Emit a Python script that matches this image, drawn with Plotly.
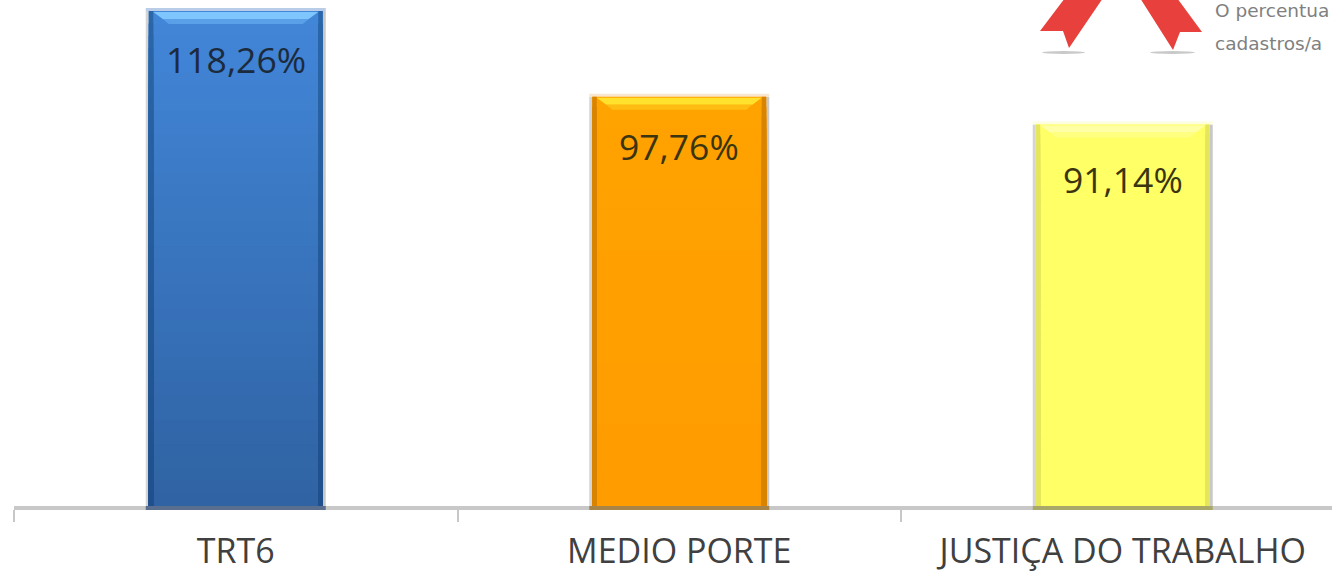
import plotly.graph_objects as go

categories = ["TRT6", "MEDIO PORTE", "JUSTIÇA DO TRABALHO"]
values = [118.26, 97.76, 91.14]
labels = ["118,26%", "97,76%", "91,14%"]
label_shift = [-48, -49, -54.5]
bar_top = ["#4286d8", "#ffa300", "#ffff66"]
bar_bottom = ["#2f62a2", "#ff9c00", "#ffff66"]
side_color = ["#2a66a8", "#d98400", "#e6e65c"]
side_bottom = ["#1f4f8c", "#d98400", "#e6e65c"]
shine_color = ["#7fc6ff", "#ffe12e", "#ffffa6"]
edge_color = ["#b9cde8", "#f8e6cf", "#fdfde0"]
foot_color = ["#5a6f8f", "#a88446", "#a8a868"]
note_lines = ["O percentua", "cadastros/a"]

W, H = 1332, 573
L, B = 14, 67
PLOT_H = 506
UNIT_PX = 495 / 118.26
CAT_PX = 443.5
BAR_W = 174 / CAT_PX
XR = (-0.5, -0.5 + (W - L) / CAT_PX)
YR = (0, PLOT_H / UNIT_PX)


def mix(a, b, t):
    ca = [int(a[i:i + 2], 16) for i in (1, 3, 5)]
    cb = [int(b[i:i + 2], 16) for i in (1, 3, 5)]
    return "#%02x%02x%02x" % tuple(round(p + (q - p) * t) for p, q in zip(ca, cb))


def px(x):
    return (x - L) / (W - L)


def py(y):
    return 1 - y / PLOT_H


fig = go.Figure(go.Bar(
    x=categories, y=values, width=BAR_W,
    marker=dict(color=bar_top, line=dict(width=0)),
    hoverinfo="skip", showlegend=False,
))

shapes = []
dx = 1 / CAT_PX
dy = 1 / UNIT_PX
BANDS = 40
for i, v in enumerate(values):
    x0, x1 = i - BAR_W / 2, i + BAR_W / 2
    shapes.append(dict(type="rect", xref="x", yref="y", x0=x1, x1=x1 + 3 * dx, y0=0, y1=v,
                       fillcolor="#c8c8c8", line_width=0, layer="above"))
    shapes.append(dict(type="rect", xref="x", yref="y", x0=x0 - 3 * dx, x1=x0, y0=0, y1=v,
                       fillcolor="#d4d4d4", line_width=0, layer="above"))
    shapes.append(dict(type="rect", xref="x", yref="y", x0=x0 - 3 * dx, x1=x1 + 3 * dx,
                       y0=v, y1=v + 3 * dy, fillcolor=edge_color[i], line_width=0, layer="above"))
    # vertical gradient: each band runs to the baseline, so no seams show
    for k in range(BANDS):
        t0 = k / BANDS
        yb = v * (1 - t0)
        shapes.append(dict(type="rect", xref="x", yref="y", x0=x0, x1=x1, y0=0, y1=yb,
                           fillcolor=mix(bar_top[i], bar_bottom[i], t0), line_width=0, layer="above"))
    for k in range(BANDS):
        t0 = k / BANDS
        yb = v * (1 - t0)
        for a, b in ((x0, x0 + 4.5 * dx), (x1 - 4.5 * dx, x1)):
            shapes.append(dict(type="rect", xref="x", yref="y", x0=a, x1=b, y0=0, y1=yb,
                               fillcolor=mix(side_color[i], side_bottom[i], t0), line_width=0, layer="above"))
    path = (f"M {x0 + 4.5 * dx} {v - 1 * dy} L {x1 - 4.5 * dx} {v - 1 * dy} "
            f"L {x1 - 14 * dx} {v - 8 * dy} L {x0 + 14 * dx} {v - 8 * dy} Z")
    shapes.append(dict(type="path", xref="x", yref="y", path=path,
                       fillcolor=shine_color[i], line_width=0, layer="above"))
    path = (f"M {x0 + 14 * dx} {v - 8 * dy} L {x1 - 14 * dx} {v - 8 * dy} "
            f"L {x1 - 20 * dx} {v - 13 * dy} L {x0 + 20 * dx} {v - 13 * dy} Z")
    shapes.append(dict(type="path", xref="x", yref="y", path=path,
                       fillcolor=mix(shine_color[i], bar_top[i], 0.6), line_width=0, layer="above"))
    # foot of the bar, over the axis line
    shapes.append(dict(type="rect", xref="x", yref="paper", x0=x0 - 3 * dx, x1=x1 + 3 * dx, y0=py(510), y1=py(506),
                       fillcolor=foot_color[i], line_width=0, layer="above"))


def poly(points, color):
    d = "M " + " L ".join(f"{px(a)} {py(b)}" for a, b in points) + " Z"
    return dict(type="path", xref="paper", yref="paper", path=d,
                fillcolor=color, line_width=0, layer="above")


shapes.append(poly([(1065, -2), (1040, 31), (1063, 31), (1069, 48), (1103, -2)], "#e8403c"))
shapes.append(poly([(1140, -2), (1173, 50), (1180, 32), (1202, 32), (1177, -2)], "#e8403c"))
for a, b in ((1042, 1085), (1150, 1195)):
    shapes.append(dict(type="circle", xref="paper", yref="paper", x0=px(a), x1=px(b),
                       y0=py(54), y1=py(51), fillcolor="#c9c9c9", line_width=0, layer="above"))

annotations = [
    dict(x=categories[i], y=values[i], text=labels[i], showarrow=False, yshift=label_shift[i],
         xanchor="center", yanchor="middle",
         font=dict(family="Open Sans", size=35.5, color="#1c2b3c" if i == 0 else "#3a3410"))
    for i in range(3)
]
for t, y in zip(note_lines, (11, 44)):
    annotations.append(dict(xref="paper", yref="paper", x=px(1213), y=py(y), text=t, showarrow=False,
                            xanchor="left", yanchor="middle",
                            font=dict(family="DejaVu Sans", size=18.5, color="#808080")))

fig.update_layout(
    width=W, height=H, margin=dict(l=L, r=0, t=0, b=B, pad=0, autoexpand=False),
    paper_bgcolor="white", plot_bgcolor="white", barmode="overlay",
    shapes=shapes, annotations=annotations, showlegend=False,
    xaxis=dict(type="category", range=XR, tickson="boundaries", ticks="outside", ticklen=12, tickwidth=2,
               tickcolor="#c8c8c8", showline=True, linecolor="#c8c8c8", linewidth=4, showgrid=False,
               zeroline=False, tickangle=0, ticklabelstandoff=12, automargin=False,
               tickfont=dict(family="Open Sans", size=34, color="#404040")),
    yaxis=dict(range=YR, visible=False, showgrid=False, zeroline=False, automargin=False),
)

fig.write_html("out.html", config=dict(displayModeBar=False),
               post_script="document.body.style.margin='0';document.body.style.overflow='hidden';")
